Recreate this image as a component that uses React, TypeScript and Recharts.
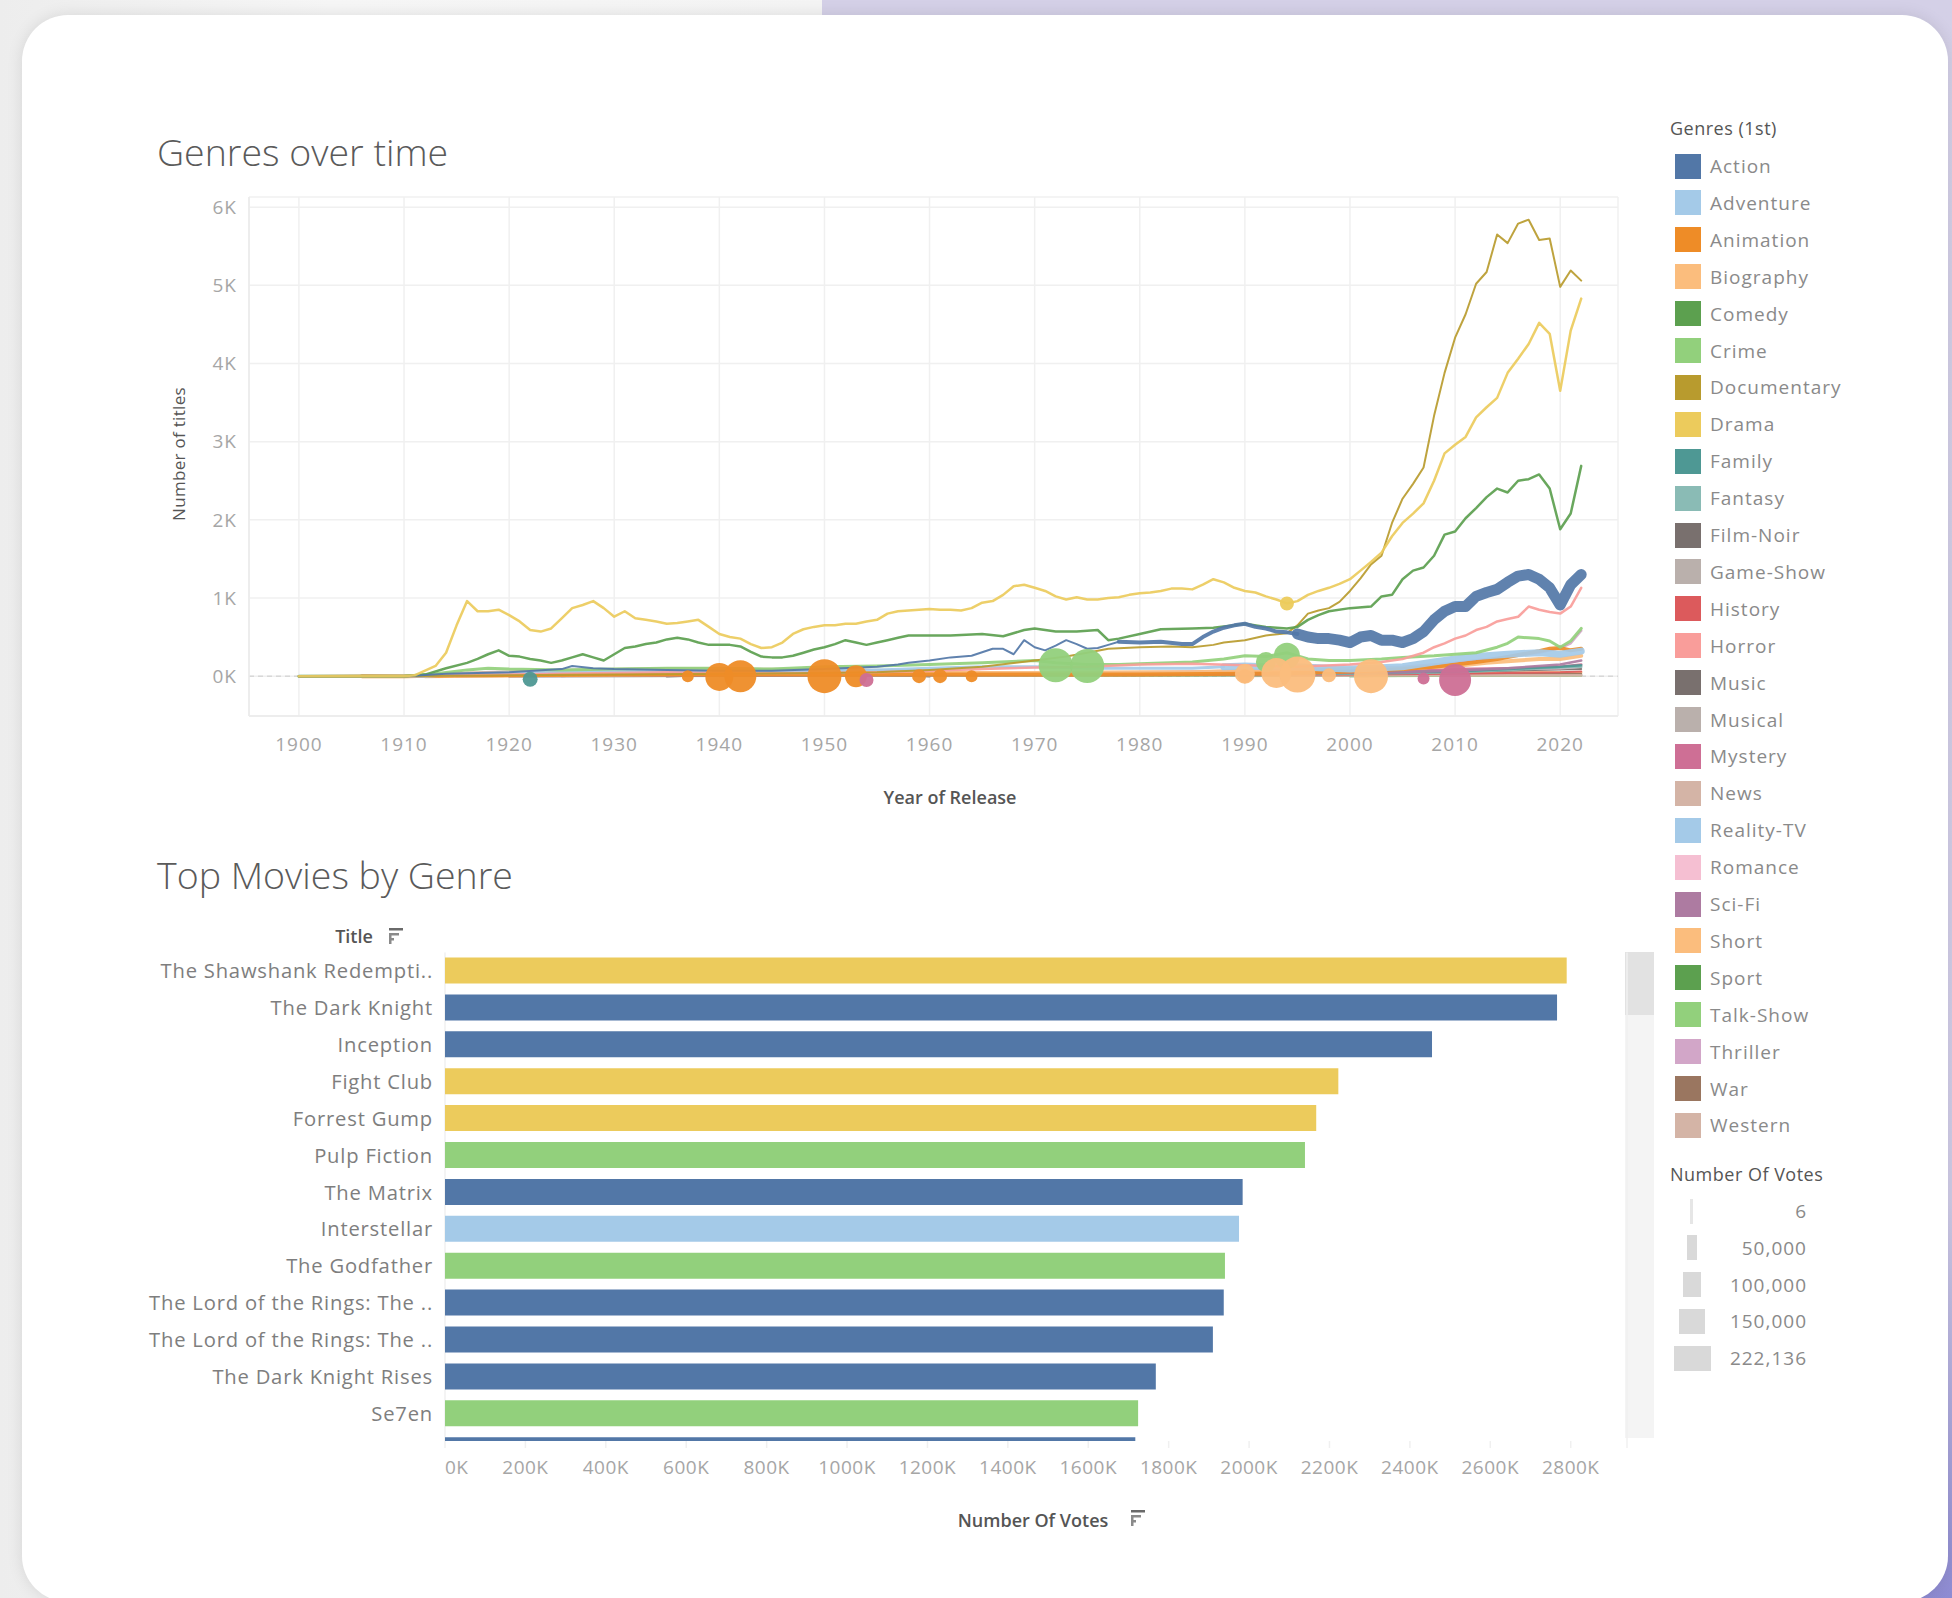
import React from 'react';
import {
  ComposedChart, Line, Scatter, ZAxis, XAxis, YAxis, CartesianGrid, ReferenceLine,
  BarChart, Bar, Cell,
} from 'recharts';

const FONT = '"Open Sans", "Noto Sans", Lato, sans-serif';

type P = [number, number];
type B = [number, number, number];

// ---------- Legend / genres ----------
const GENRES = ['Action', 'Adventure', 'Animation', 'Biography', 'Comedy', 'Crime', 'Documentary', 'Drama', 'Family', 'Fantasy', 'Film-Noir', 'Game-Show', 'History', 'Horror', 'Music', 'Musical', 'Mystery', 'News', 'Reality-TV', 'Romance', 'Sci-Fi', 'Short', 'Sport', 'Talk-Show', 'Thriller', 'War', 'Western'];
const GENRE_COLORS = ['#5277A7', '#A4CAE8', '#EE8C27', '#FBBD7D', '#5CA04F', '#92D07C', '#B89B2E', '#ECCB5C', '#4E9894', '#8ABBB5', '#79706E', '#BAB0AC', '#DC5A5C', '#F99D9A', '#79706E', '#BAB0AC', '#CE6F95', '#D4B4A6', '#A4CAE8', '#F5BFD2', '#AD7BA1', '#FBBD7D', '#5CA04F', '#92D07C', '#D2A6C8', '#9A7660', '#D4B4A6'];
const colorOf = (g: string) => GENRE_COLORS[GENRES.indexOf(g)];

const SIZE_LEGEND = [6, 50000, 100000, 150000, 222136];

// ---------- Line chart: number of titles (K) by year ----------
const YEAR_TICKS = [1900, 1910, 1920, 1930, 1940, 1950, 1960, 1970, 1980, 1990, 2000, 2010, 2020];
const K_TICKS = [0, 1, 2, 3, 4, 5, 6];

const drama: P[] = [[1900, 0], [1905, 0], [1910, 0], [1911, 0.01], [1913, 0.13], [1914, 0.3], [1915, 0.65], [1916, 0.96], [1917, 0.83], [1918, 0.83], [1919, 0.85], [1920, 0.78], [1921, 0.7], [1922, 0.59], [1923, 0.57], [1924, 0.61], [1925, 0.74], [1926, 0.87], [1927, 0.91], [1928, 0.96], [1929, 0.87], [1930, 0.76], [1931, 0.83], [1932, 0.74], [1933, 0.72], [1934, 0.7], [1935, 0.67], [1936, 0.68], [1937, 0.7], [1938, 0.72], [1939, 0.63], [1940, 0.54], [1941, 0.5], [1942, 0.48], [1943, 0.41], [1944, 0.36], [1945, 0.37], [1946, 0.43], [1947, 0.54], [1948, 0.6], [1949, 0.63], [1950, 0.65], [1951, 0.65], [1952, 0.67], [1953, 0.67], [1954, 0.7], [1955, 0.72], [1956, 0.8], [1957, 0.83], [1958, 0.84], [1959, 0.85], [1960, 0.86], [1961, 0.85], [1962, 0.85], [1963, 0.84], [1964, 0.87], [1965, 0.94], [1966, 0.96], [1967, 1.04], [1968, 1.15], [1969, 1.17], [1970, 1.13], [1971, 1.09], [1972, 1.02], [1973, 0.98], [1974, 1.01], [1975, 0.98], [1976, 0.98], [1977, 1.0], [1978, 1.01], [1979, 1.04], [1980, 1.06], [1981, 1.07], [1982, 1.09], [1983, 1.12], [1984, 1.12], [1985, 1.11], [1986, 1.17], [1987, 1.24], [1988, 1.2], [1989, 1.13], [1990, 1.09], [1991, 1.07], [1992, 1.02], [1993, 0.98], [1994, 0.93], [1995, 0.96], [1996, 1.04], [1997, 1.09], [1998, 1.13], [1999, 1.18], [2000, 1.24], [2001, 1.35], [2002, 1.46], [2003, 1.58], [2004, 1.79], [2005, 1.96], [2006, 2.08], [2007, 2.21], [2008, 2.5], [2009, 2.85], [2010, 2.96], [2011, 3.06], [2012, 3.31], [2013, 3.44], [2014, 3.56], [2015, 3.88], [2016, 4.06], [2017, 4.25], [2018, 4.52], [2019, 4.38], [2020, 3.65], [2021, 4.42], [2022, 4.83]];

const documentary: P[] = [[1900, 0], [1910, 0], [1920, 0.01], [1930, 0.02], [1940, 0.03], [1950, 0.04], [1955, 0.05], [1960, 0.08], [1965, 0.12], [1970, 0.2], [1973, 0.25], [1975, 0.3], [1977, 0.35], [1980, 0.37], [1983, 0.38], [1985, 0.37], [1987, 0.4], [1988, 0.43], [1990, 0.46], [1992, 0.52], [1994, 0.55], [1995, 0.65], [1996, 0.8], [1997, 0.84], [1998, 0.87], [1999, 0.95], [2000, 1.09], [2001, 1.25], [2002, 1.43], [2003, 1.54], [2004, 1.96], [2005, 2.27], [2006, 2.46], [2007, 2.67], [2008, 3.33], [2009, 3.88], [2010, 4.33], [2011, 4.63], [2012, 5.02], [2013, 5.17], [2014, 5.65], [2015, 5.54], [2016, 5.79], [2017, 5.84], [2018, 5.58], [2019, 5.6], [2020, 4.98], [2021, 5.19], [2022, 5.06]];

const comedy: P[] = [[1900, 0], [1910, 0], [1912, 0.02], [1914, 0.1], [1916, 0.17], [1917, 0.22], [1918, 0.28], [1919, 0.33], [1920, 0.26], [1921, 0.25], [1922, 0.22], [1923, 0.2], [1924, 0.17], [1925, 0.2], [1926, 0.24], [1927, 0.28], [1928, 0.24], [1929, 0.2], [1930, 0.28], [1931, 0.36], [1932, 0.38], [1933, 0.41], [1934, 0.43], [1935, 0.47], [1936, 0.49], [1937, 0.47], [1938, 0.43], [1939, 0.4], [1940, 0.4], [1941, 0.4], [1942, 0.38], [1943, 0.31], [1944, 0.25], [1945, 0.24], [1946, 0.24], [1947, 0.26], [1948, 0.3], [1949, 0.34], [1950, 0.37], [1951, 0.41], [1952, 0.46], [1953, 0.43], [1954, 0.4], [1955, 0.43], [1956, 0.46], [1957, 0.49], [1958, 0.52], [1959, 0.52], [1960, 0.52], [1962, 0.52], [1965, 0.54], [1967, 0.51], [1969, 0.59], [1970, 0.61], [1972, 0.57], [1974, 0.57], [1976, 0.59], [1977, 0.46], [1978, 0.48], [1980, 0.54], [1982, 0.6], [1985, 0.61], [1987, 0.62], [1989, 0.65], [1990, 0.67], [1992, 0.63], [1994, 0.61], [1995, 0.63], [1996, 0.72], [1997, 0.78], [1998, 0.83], [2000, 0.87], [2002, 0.89], [2003, 1.02], [2004, 1.04], [2005, 1.24], [2006, 1.35], [2007, 1.39], [2008, 1.54], [2009, 1.81], [2010, 1.85], [2011, 2.02], [2012, 2.15], [2013, 2.29], [2014, 2.4], [2015, 2.35], [2016, 2.5], [2017, 2.52], [2018, 2.58], [2019, 2.4], [2020, 1.88], [2021, 2.08], [2022, 2.69]];

const actionEarly: P[] = [[1900, 0], [1910, 0], [1914, 0.03], [1920, 0.05], [1925, 0.09], [1926, 0.13], [1928, 0.1], [1930, 0.09], [1935, 0.08], [1940, 0.07], [1945, 0.07], [1950, 0.09], [1955, 0.12], [1957, 0.15], [1958, 0.17], [1960, 0.2], [1962, 0.24], [1964, 0.26], [1966, 0.35], [1967, 0.35], [1968, 0.28], [1969, 0.46], [1970, 0.37], [1971, 0.33], [1972, 0.39], [1973, 0.46], [1974, 0.41], [1975, 0.35], [1976, 0.36], [1977, 0.4], [1978, 0.44]];
const actionMid: P[] = [[1978, 0.44], [1980, 0.43], [1982, 0.44], [1984, 0.41], [1985, 0.41], [1986, 0.5], [1987, 0.57], [1988, 0.62], [1989, 0.65], [1990, 0.67], [1991, 0.63], [1992, 0.61], [1993, 0.57], [1994, 0.56], [1995, 0.54]];
const actionLate: P[] = [[1995, 0.54], [1996, 0.5], [1997, 0.48], [1998, 0.48], [1999, 0.46], [2000, 0.43], [2001, 0.5], [2002, 0.52], [2003, 0.46], [2004, 0.46], [2005, 0.43], [2006, 0.48], [2007, 0.57], [2008, 0.72], [2009, 0.83], [2010, 0.89], [2011, 0.89], [2012, 1.02], [2013, 1.07], [2014, 1.11], [2015, 1.2], [2016, 1.28], [2017, 1.3], [2018, 1.24], [2019, 1.13], [2020, 0.91], [2021, 1.17], [2022, 1.3]];

const horror: P[] = [[1900, 0], [1910, 0], [1915, 0.01], [1920, 0.02], [1930, 0.04], [1935, 0.05], [1940, 0.04], [1950, 0.04], [1955, 0.05], [1960, 0.07], [1965, 0.09], [1970, 0.11], [1975, 0.12], [1980, 0.15], [1985, 0.16], [1990, 0.14], [1995, 0.12], [2000, 0.15], [2003, 0.18], [2005, 0.22], [2007, 0.3], [2008, 0.37], [2009, 0.42], [2010, 0.48], [2011, 0.52], [2012, 0.59], [2013, 0.63], [2014, 0.7], [2015, 0.73], [2016, 0.76], [2017, 0.89], [2018, 0.85], [2019, 0.82], [2020, 0.8], [2021, 0.89], [2022, 1.13]];

const crime: P[] = [[1900, 0], [1910, 0], [1913, 0.03], [1916, 0.08], [1918, 0.1], [1920, 0.09], [1925, 0.08], [1930, 0.09], [1935, 0.1], [1940, 0.1], [1945, 0.09], [1950, 0.12], [1955, 0.13], [1960, 0.15], [1965, 0.17], [1970, 0.2], [1972, 0.17], [1975, 0.15], [1978, 0.15], [1980, 0.16], [1985, 0.18], [1988, 0.22], [1990, 0.26], [1992, 0.25], [1994, 0.3], [1996, 0.22], [1998, 0.2], [2000, 0.2], [2003, 0.22], [2005, 0.24], [2008, 0.26], [2010, 0.28], [2012, 0.3], [2014, 0.37], [2015, 0.42], [2016, 0.5], [2017, 0.49], [2018, 0.48], [2019, 0.45], [2020, 0.37], [2021, 0.45], [2022, 0.61]];

const adventureEarly: P[] = [[1900, 0], [1912, 0], [1915, 0.02], [1920, 0.04], [1925, 0.06], [1930, 0.06], [1935, 0.07], [1940, 0.06], [1945, 0.05], [1950, 0.07], [1955, 0.08], [1960, 0.1], [1965, 0.12], [1970, 0.12], [1975, 0.1], [1980, 0.1], [1985, 0.1], [1988, 0.12]];
const adventureLate: P[] = [[1988, 0.12], [1990, 0.13], [1992, 0.12], [1995, 0.12], [1998, 0.1], [2000, 0.09], [2002, 0.1], [2005, 0.12], [2008, 0.18], [2010, 0.22], [2012, 0.25], [2015, 0.28], [2018, 0.3], [2020, 0.28], [2022, 0.32]];

const animation: P[] = [[1906, 0], [1910, 0], [1915, 0.01], [1920, 0.01], [1930, 0.02], [1940, 0.02], [1950, 0.02], [1960, 0.02], [1970, 0.02], [1980, 0.02], [1990, 0.03], [1995, 0.04], [2000, 0.06], [2005, 0.09], [2008, 0.12], [2010, 0.15], [2012, 0.18], [2014, 0.22], [2016, 0.27], [2018, 0.32], [2019, 0.35], [2020, 0.36], [2021, 0.33], [2022, 0.35]];
const biography: P[] = [[1912, 0], [1920, 0.01], [1930, 0.02], [1940, 0.03], [1950, 0.03], [1960, 0.04], [1970, 0.04], [1980, 0.05], [1985, 0.05], [1990, 0.07], [1995, 0.08], [2000, 0.09], [2005, 0.1], [2010, 0.13], [2013, 0.17], [2016, 0.2], [2018, 0.22], [2020, 0.22], [2022, 0.26]];
const family: P[] = [[1910, 0], [1920, 0.01], [1940, 0.01], [1960, 0.02], [1980, 0.03], [2000, 0.04], [2010, 0.06], [2015, 0.09], [2020, 0.12], [2022, 0.14]];
const fantasy: P[] = [[1910, 0], [1930, 0.01], [1960, 0.01], [1980, 0.02], [2000, 0.03], [2010, 0.05], [2015, 0.08], [2020, 0.11], [2022, 0.12]];
const filmNoir: P[] = [[1935, 0], [1940, 0.02], [1945, 0.04], [1950, 0.03], [1955, 0.02], [1960, 0]];
const gameShow: P[] = [[2000, 0], [2010, 0.005], [2022, 0.01]];
const history: P[] = [[1910, 0], [1940, 0.01], [1970, 0.01], [2000, 0.02], [2010, 0.03], [2015, 0.04], [2020, 0.05], [2022, 0.06]];
const music: P[] = [[1910, 0], [1930, 0.02], [1960, 0.02], [1990, 0.02], [2005, 0.04], [2015, 0.07], [2022, 0.09]];
const musical: P[] = [[1925, 0], [1930, 0.03], [1940, 0.03], [1950, 0.03], [1960, 0.02], [1980, 0.01], [2022, 0.01]];
const mystery: P[] = [[1910, 0], [1930, 0.02], [1950, 0.02], [1970, 0.02], [1990, 0.03], [2005, 0.06], [2010, 0.09], [2015, 0.1], [2020, 0.12], [2022, 0.15]];
const news: P[] = [[1990, 0], [2010, 0.005], [2022, 0.01]];
const realityTV: P[] = [[2000, 0], [2010, 0.01], [2022, 0.02]];
const romance: P[] = [[1910, 0], [1920, 0.04], [1925, 0.06], [1930, 0.05], [1940, 0.04], [1960, 0.04], [1980, 0.04], [2000, 0.06], [2010, 0.08], [2020, 0.1], [2022, 0.12]];
const sciFi: P[] = [[1920, 0], [1950, 0.01], [1970, 0.02], [1990, 0.03], [2005, 0.05], [2010, 0.07], [2015, 0.1], [2020, 0.15], [2022, 0.2]];
const short: P[] = [[1900, 0], [1906, 0.01], [1910, 0], [1930, 0.01], [1960, 0.01], [1990, 0.02], [2010, 0.04], [2022, 0.05]];
const sport: P[] = [[1920, 0], [1960, 0.005], [2000, 0.01], [2022, 0.02]];
const talkShow: P[] = [[2000, 0], [2022, 0.005]];
const thriller: P[] = [[1915, 0], [1940, 0.02], [1960, 0.03], [1980, 0.05], [1995, 0.08], [2005, 0.12], [2010, 0.17], [2015, 0.25], [2018, 0.3], [2020, 0.36], [2021, 0.42], [2022, 0.58]];
const war: P[] = [[1915, 0], [1940, 0.04], [1945, 0.05], [1950, 0.03], [1970, 0.02], [2000, 0.02], [2022, 0.03]];
const western: P[] = [[1910, 0], [1915, 0.04], [1925, 0.08], [1935, 0.1], [1945, 0.09], [1955, 0.08], [1965, 0.05], [1975, 0.02], [2000, 0.01], [2022, 0.01]];

// thick "size" spots where a genre's vote count swells: [year, K titles, votes]
const animationBlobs: B[] = [[1937, 0, 15700], [1940, -0.01, 85500], [1942, 0, 111600], [1950, 0, 126000], [1953, 0, 52800], [1959, 0, 21400], [1961, 0, 21400], [1964, 0, 15700], [1990, 0, 21400]];
const familyBlobs: B[] = [[1922, -0.04, 24500]];
const mysteryBlobs: B[] = [[1954, -0.05, 21400], [2007, -0.03, 15700], [2010, -0.05, 111600]];
const crimeBlobs: B[] = [[1972, 0.14, 126000], [1975, 0.13, 126000], [1992, 0.18, 43600], [1994, 0.26, 73700]];
const biographyBlobs: B[] = [[1990, 0.03, 43600], [1993, 0.04, 98100], [1995, 0.02, 141300], [1998, 0.01, 21400], [2002, 0.0, 126000]];
const dramaBlobs: B[] = [[1994, 0.93, 21400]];

// ---------- Bar chart ----------
const MOVIE_TITLES = ['The Shawshank Redempti..', 'The Dark Knight', 'Inception', 'Fight Club', 'Forrest Gump', 'Pulp Fiction', 'The Matrix', 'Interstellar', 'The Godfather', 'The Lord of the Rings: The ..', 'The Lord of the Rings: The ..', 'The Dark Knight Rises', 'Se7en', 'The Lord of the Rings: The ..'];
const MOVIE_VOTES = [2790000, 2766000, 2455000, 2222000, 2167000, 2139000, 1984000, 1975000, 1940000, 1937000, 1910000, 1768000, 1724000, 1717000];
const MOVIE_GENRES = ['Drama', 'Action', 'Action', 'Drama', 'Drama', 'Crime', 'Action', 'Adventure', 'Crime', 'Action', 'Action', 'Action', 'Crime', 'Action'];
const VOTE_TICKS = [0, 200000, 400000, 600000, 800000, 1000000, 1200000, 1400000, 1600000, 1800000, 2000000, 2200000, 2400000, 2600000, 2800000];
const VISIBLE_ROWS = 13; // the 14th row is scrolled mostly out of view

// ---------- derived tables ----------
const pts = (a: P[]) => a.map(([year, v]) => ({ year, v }));
const blobPts = (a: B[]) => a.map(([year, v, z]) => ({ year, v, z }));

const LINE_SERIES: { id: string; genre: string; data: P[]; w: number }[] = [
  { id: 'gs', genre: 'Game-Show', data: gameShow, w: 2 },
  { id: 'nw', genre: 'News', data: news, w: 2 },
  { id: 'rt', genre: 'Reality-TV', data: realityTV, w: 2 },
  { id: 'ts', genre: 'Talk-Show', data: talkShow, w: 2 },
  { id: 'sp', genre: 'Sport', data: sport, w: 2 },
  { id: 'sh', genre: 'Short', data: short, w: 2.5 },
  { id: 'ms', genre: 'Musical', data: musical, w: 2 },
  { id: 'fn', genre: 'Film-Noir', data: filmNoir, w: 2.5 },
  { id: 'wr', genre: 'War', data: war, w: 2 },
  { id: 'we', genre: 'Western', data: western, w: 2.5 },
  { id: 'hi', genre: 'History', data: history, w: 2 },
  { id: 'mu', genre: 'Music', data: music, w: 2 },
  { id: 'ro', genre: 'Romance', data: romance, w: 2.5 },
  { id: 'my', genre: 'Mystery', data: mystery, w: 2.5 },
  { id: 'fa', genre: 'Fantasy', data: fantasy, w: 2.5 },
  { id: 'fm', genre: 'Family', data: family, w: 2.5 },
  { id: 'sf', genre: 'Sci-Fi', data: sciFi, w: 2.5 },
  { id: 'th', genre: 'Thriller', data: thriller, w: 2.5 },
  { id: 'bi', genre: 'Biography', data: biography, w: 4 },
  { id: 'an', genre: 'Animation', data: animation, w: 4 },
  { id: 'ad1', genre: 'Adventure', data: adventureEarly, w: 3 },
  { id: 'ad2', genre: 'Adventure', data: adventureLate, w: 7 },
  { id: 'cr', genre: 'Crime', data: crime, w: 3 },
  { id: 'ho', genre: 'Horror', data: horror, w: 2.5 },
  { id: 'do', genre: 'Documentary', data: documentary, w: 2 },
  { id: 'co', genre: 'Comedy', data: comedy, w: 2.5 },
  { id: 'ac1', genre: 'Action', data: actionEarly, w: 2 },
  { id: 'ac2', genre: 'Action', data: actionMid, w: 4 },
  { id: 'ac3', genre: 'Action', data: actionLate, w: 11 },
  { id: 'dr', genre: 'Drama', data: drama, w: 2.5 },
];

const BLOB_SERIES: { id: string; genre: string; data: B[] }[] = [
  { id: 'b-fm', genre: 'Family', data: familyBlobs },
  { id: 'b-an', genre: 'Animation', data: animationBlobs },
  { id: 'b-my', genre: 'Mystery', data: mysteryBlobs },
  { id: 'b-cr', genre: 'Crime', data: crimeBlobs },
  { id: 'b-bi', genre: 'Biography', data: biographyBlobs },
  { id: 'b-dr', genre: 'Drama', data: dramaBlobs },
];

const BAR_DATA = MOVIE_TITLES.map((title, i) => ({ key: `m${i}`, title, votes: MOVIE_VOTES[i], genre: MOVIE_GENRES[i] }));
const titleOfKey = (k: string) => {
  const idx = BAR_DATA.findIndex((d) => d.key === k);
  return idx >= 0 && idx < VISIBLE_ROWS ? BAR_DATA[idx].title : '';
};

// ---------- helpers ----------
const Txt: React.FC<{ x: number; y: number; size: number; color: string; weight?: number; spacing?: number; anchor?: 'left' | 'center' | 'right'; children: React.ReactNode }> = ({ x, y, size, color, weight = 400, spacing = 0, anchor = 'left', children }) => {
  const tx = anchor === 'center' ? '-50%' : anchor === 'right' ? '-100%' : '0';
  return (
    <div style={{ position: 'absolute', left: x, top: y, transform: `translate(${tx}, -50%)`, fontSize: size, color, fontWeight: weight, letterSpacing: spacing, whiteSpace: 'nowrap', lineHeight: 1, fontFamily: FONT }}>
      {children}
    </div>
  );
};

const SortIcon: React.FC<{ x: number; y: number }> = ({ x, y }) => (
  <svg style={{ position: 'absolute', left: x, top: y - 9 }} width={16} height={18}>
    <rect x={1} y={1} width={14} height={2.5} fill="#6a6a6a" />
    <rect x={1} y={6} width={10} height={2.5} fill="#8a8a8a" />
    <rect x={1} y={11} width={5} height={2.5} fill="#8a8a8a" />
    <rect x={1} y={6} width={2.5} height={11} fill="#8a8a8a" />
  </svg>
);

const tickStyle = { fill: '#A6A6A6', fontSize: 19, fontFamily: FONT, letterSpacing: 1 };

const VoteTick = (props: any) => {
  const { x, y, payload } = props;
  const first = payload.value === 0;
  return (
    <text x={x} y={y} dy="0.71em" textAnchor={first ? 'start' : 'middle'} fill="#A6A6A6" fontSize={19} fontFamily={FONT} letterSpacing={0.5}>
      {`${Math.round(payload.value / 1000)}K`}
    </text>
  );
};

export default function App() {
  return (
    <div style={{ position: 'absolute', left: 0, top: 0, width: 1952, height: 1598, overflow: 'hidden', fontFamily: FONT, background: '#F5F5F5' }}>
      {/* page background */}
      <div style={{ position: 'absolute', left: 0, top: 0, width: 822, height: 1598, background: 'linear-gradient(90deg,#EDEDED 0%,#F6F6F6 40%,#F4F4F4 100%)' }} />
      <div style={{ position: 'absolute', left: 822, top: 0, width: 1130, height: 1598, background: 'linear-gradient(180deg,#D4D0E7 0%,#D0CCE7 75%,#8E8BD2 100%)' }} />
      {/* card */}
      <div style={{ position: 'absolute', left: 22, top: 15, width: 1926, height: 1587, background: '#FFFFFF', borderRadius: 46, boxShadow: '0 0 16px rgba(0,0,0,0.10)' }} />

      {/* ---------- Genres over time ---------- */}
      <Txt x={157} y={152} size={37.5} color="#5A5A5A" weight={300}>Genres over time</Txt>
      <div style={{ position: 'absolute', left: 178, top: 454, transform: 'translate(-50%,-50%) rotate(-90deg)', fontSize: 17, color: '#555', whiteSpace: 'nowrap', lineHeight: 1, letterSpacing: 0.3 }}>Number of titles</div>
      <Txt x={950} y={797} size={18} color="#555" weight={600} anchor="center">Year of Release</Txt>

      <div style={{ position: 'absolute', left: 0, top: 0 }}>
        <ComposedChart width={1640} height={830} margin={{ top: 197, right: 22, bottom: 84, left: 189 }}>
          <CartesianGrid stroke="#F0F0F0" strokeWidth={1.5} />
          <XAxis type="number" dataKey="year" domain={[1895.25, 2025.5]} ticks={YEAR_TICKS} interval={0} allowDataOverflow height={30}
            tickLine={false} tickSize={0} tickMargin={22} axisLine={{ stroke: '#EBEBEB', strokeWidth: 1.5 }} tick={tickStyle} />
          <YAxis type="number" dataKey="v" domain={[-0.51, 6.13]} ticks={K_TICKS} interval={0} allowDataOverflow width={60}
            tickFormatter={(v: number) => `${v}K`} tickLine={false} tickSize={0} tickMargin={12} axisLine={{ stroke: '#EBEBEB', strokeWidth: 1.5 }} tick={tickStyle} />
          <ZAxis type="number" dataKey="z" domain={[0, 222136]} range={[0, 1600]} />
          <ReferenceLine y={0} stroke="#D8D8D8" strokeWidth={1.5} strokeDasharray="5 4" />
          {LINE_SERIES.map((s) => (
            <Line key={s.id} data={pts(s.data)} dataKey="v" type="linear" stroke={colorOf(s.genre)} strokeWidth={s.w}
              strokeOpacity={0.92} dot={false} activeDot={false} isAnimationActive={false} strokeLinejoin="round" strokeLinecap="round" />
          ))}
          {BLOB_SERIES.map((s) => (
            <Scatter key={s.id} data={blobPts(s.data)} dataKey="v" fill={colorOf(s.genre)} fillOpacity={0.95} isAnimationActive={false} />
          ))}
        </ComposedChart>
      </div>

      {/* ---------- Legend ---------- */}
      <Txt x={1670} y={128} size={18} color="#555" spacing={0.5}>Genres (1st)</Txt>
      {GENRES.map((g, i) => (
        <React.Fragment key={g}>
          <div style={{ position: 'absolute', left: 1675, top: 166 + i * 36.9 - 12.5, width: 26, height: 25, background: GENRE_COLORS[i] }} />
          <Txt x={1710} y={166 + i * 36.9} size={19} color="#8A8A8A" spacing={1}>{g}</Txt>
        </React.Fragment>
      ))}
      <Txt x={1670} y={1174} size={18} color="#555" spacing={0.5}>Number Of Votes</Txt>
      {SIZE_LEGEND.map((v, i) => {
        const w = 3 + 34 * (v / 222136);
        return (
          <React.Fragment key={v}>
            <div style={{ position: 'absolute', left: 1692 - w / 2, top: 1211 + i * 36.8 - 12.5, width: w, height: 25, background: i === 0 ? '#E6E6E6' : '#D9D9D9' }} />
            <Txt x={1807} y={1211 + i * 36.8} size={19} color="#8A8A8A" spacing={1} anchor="right">{v.toLocaleString('en-US')}</Txt>
          </React.Fragment>
        );
      })}

      {/* ---------- Top Movies by Genre ---------- */}
      <Txt x={157} y={875} size={37.5} color="#5A5A5A" weight={300}>Top Movies by Genre</Txt>
      <Txt x={354} y={936} size={18} color="#555" weight={600} anchor="center">Title</Txt>
      <SortIcon x={388} y={936} />
      <Txt x={1033} y={1520} size={18} color="#555" weight={600} anchor="center">Number Of Votes</Txt>
      <SortIcon x={1130} y={1518} />

      {/* scrollbar */}
      <div style={{ position: 'absolute', left: 1625, top: 952, width: 29, height: 486, background: '#F4F4F4' }} />
      <div style={{ position: 'absolute', left: 1625, top: 952, width: 29, height: 63, background: '#E2E2E2' }} />

      <div style={{ position: 'absolute', left: 0, top: 900, width: 1660, height: 541, overflow: 'hidden' }}>
        <BarChart width={1660} height={600} layout="vertical" data={BAR_DATA} margin={{ top: 52.5, right: 33, bottom: 30.9, left: 100 }} barSize={26}>
          <CartesianGrid horizontal={false} stroke="#F0F0F0" strokeWidth={1.5} />
          <XAxis type="number" dataKey="votes" domain={[0, 2940000]} ticks={VOTE_TICKS} interval={0} allowDataOverflow height={0} tick={false} tickLine={false} axisLine={false} />
          <YAxis type="category" dataKey="key" width={345} interval={0} tickLine={false} tickSize={0} tickMargin={12} axisLine={false}
            tickFormatter={titleOfKey} tick={{ fill: '#7E7E7E', fontSize: 20.2, fontFamily: FONT, letterSpacing: 0.8 }} />
          <Bar dataKey="votes" isAnimationActive={false}>
            {BAR_DATA.map((d) => <Cell key={d.key} fill={colorOf(d.genre)} />)}
          </Bar>
        </BarChart>
      </div>
      <div style={{ position: 'absolute', left: 0, top: 1380 }}>
        <BarChart width={1660} height={130} layout="vertical" data={BAR_DATA} margin={{ top: 61, right: 33, bottom: 32, left: 445 }}>
          <CartesianGrid horizontal={false} stroke="#F0F0F0" strokeWidth={1.5} />
          <XAxis type="number" dataKey="votes" domain={[0, 2940000]} ticks={VOTE_TICKS} interval={0} allowDataOverflow height={30}
            tickLine={false} tickSize={0} tickMargin={13} axisLine={false} tick={<VoteTick />} />
          <YAxis type="category" dataKey="key" width={0} hide />
        </BarChart>
      </div>
    </div>
  );
}
